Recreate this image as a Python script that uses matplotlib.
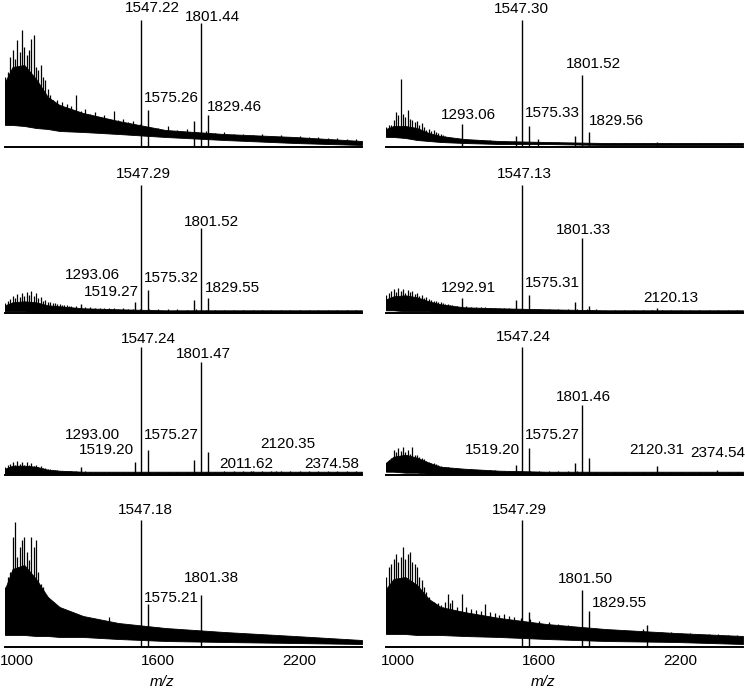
import numpy as np
import matplotlib
matplotlib.use("Agg")
import matplotlib.pyplot as plt
import matplotlib.transforms as mtransforms

plt.rcParams['font.family'] = ['Liberation Sans', 'DejaVu Sans']

# ---------------- data (m/z, intensity in arbitrary units) ----------------
# spike tops of the chemical noise are read at NOISE_MZ,
# the solid noise band (top "body" and bottom "lo") at ENV_MZ
NOISE_MZ = [968, 980, 990, 1000, 1010, 1020, 1030, 1040, 1050, 1060, 1070, 1080, 1090, 1100,
            1110, 1120, 1130, 1140, 1150, 1160, 1170, 1180, 1190, 1200, 1210, 1220, 1230, 1240, 1250,
            1270, 1290, 1310, 1330, 1350, 1370, 1390, 1410, 1430, 1450, 1470, 1490, 1510,
            1540, 1580, 1620, 1660, 1700, 1740, 1780, 1820, 1860, 1900, 1940, 1980, 2020, 2060,
            2100, 2140, 2180, 2220, 2260, 2300, 2340, 2380, 2420, 2460, 2485]
ENV_MZ = [968, 1000, 1050, 1100, 1150, 1200, 1300, 1450, 1650, 1900, 2200, 2485]

# panel 1 (top left)
P1_PEAK_MZ = [1547.22, 1575.26, 1801.44, 1829.46]
P1_PEAK_INT = [127, 37, 124, 32]
P1_MINOR_MZ = [1773]
P1_MINOR_INT = [26]
P1_NOISE_HI = [70, 75, 90, 97, 88, 107, 95, 117, 100, 92, 97, 108, 112, 80, 77, 82, 70, 67, 58, 52,
               47, 44, 47, 42, 45, 40, 43, 38, 41,
               52, 36, 38, 33, 35, 30, 32, 28, 36, 27, 28, 25, 26,
               23, 20, 19, 21, 17, 18, 15, 16, 14, 15, 13, 13, 12, 13, 11, 12, 10, 11, 10, 10, 9, 9, 8, 8, 7]
P1_NOISE_BODY = [65, 80, 82, 68, 50, 42, 34, 26, 17, 13, 10, 6]
P1_NOISE_LO = [22, 22, 21, 19, 18, 16, 15, 13, 10, 7, 4, 2]

# panel 2 (top right)
P2_PEAK_MZ = [1293.06, 1547.30, 1575.33, 1801.52, 1829.56]
P2_PEAK_INT = [23, 127, 21, 72, 15]
P2_MINOR_MZ = [1519, 1616, 1773, 2120]
P2_MINOR_INT = [11, 8, 11, 5]
P2_NOISE_HI = [20, 22, 22, 27, 35, 32, 68, 33, 30, 37, 28, 27, 25, 26, 22, 24, 20, 17, 18, 16,
               17, 15, 14, 13, 12, 11, 10, 9, 9,
               8, 8, 8, 7, 7, 7, 6, 7, 6, 6, 6, 5, 6,
               5, 5, 5, 4, 5, 4, 4, 4, 4, 4, 4, 4, 4, 4, 4, 4, 4, 4, 4, 4, 4, 4, 4, 4, 4]
P2_NOISE_BODY = [18, 21, 21, 19, 14, 11, 8, 6, 5, 4, 4, 4]
P2_NOISE_LO = [10, 10, 9, 7, 6, 5, 4, 3, 3, 2, 2, 2]

# panel 3 (second row left)
P3_PEAK_MZ = [1293.06, 1519.27, 1547.29, 1575.32, 1801.52, 1829.55]
P3_PEAK_INT = [9, 11, 128, 23, 85, 15]
P3_MINOR_MZ = [1773]
P3_MINOR_INT = [13]
P3_NOISE_HI = [10, 12, 14, 17, 15, 19, 16, 20, 17, 21, 18, 22, 17, 20, 15, 16, 12, 13, 11, 11,
               10, 10, 9, 9, 8, 8, 8, 7, 7,
               7, 6, 6, 6, 5, 5, 5, 5, 5, 4, 5, 4, 4,
               4, 4, 4, 4, 4, 3, 4, 3, 3, 3, 3, 3, 3, 3, 3, 3, 3, 3, 3, 3, 3, 3, 3, 3, 3]
P3_NOISE_BODY = [8, 11, 12, 11, 8, 7, 5, 4, 3, 3, 3, 3]
P3_NOISE_LO = [2, 2, 2, 1, 1, 1, 1, 1, 1, 1, 1, 1]

# panel 4 (second row right)
P4_PEAK_MZ = [1292.91, 1547.13, 1575.31, 1801.33, 2120.13]
P4_PEAK_INT = [15, 128, 18, 75, 5]
P4_MINOR_MZ = [1519, 1773, 1829]
P4_MINOR_INT = [13, 11, 7]
P4_NOISE_HI = [18, 20, 22, 24, 21, 25, 22, 24, 20, 23, 21, 22, 19, 20, 17, 18, 15, 16, 14, 13,
               12, 12, 11, 11, 10, 9, 9, 8, 8,
               7, 7, 7, 6, 6, 6, 6, 5, 5, 5, 5, 5, 4,
               4, 4, 4, 4, 4, 4, 4, 4, 4, 3, 3, 3, 3, 3, 3, 3, 3, 3, 3, 3, 3, 3, 3, 3, 3]
P4_NOISE_BODY = [14, 17, 18, 16, 12, 9, 6, 5, 4, 3, 3, 3]
P4_NOISE_LO = [3, 3, 2, 2, 2, 1, 1, 1, 1, 1, 1, 1]

# panel 5 (third row left)
P5_PEAK_MZ = [1293.00, 1519.20, 1547.24, 1575.27, 1801.47, 2011.62, 2120.35, 2374.58]
P5_PEAK_INT = [8, 13, 128, 24.5, 113, 4, 4, 3]
P5_MINOR_MZ = [1773, 1829]
P5_MINOR_INT = [15, 23]
P5_NOISE_HI = [8, 10, 11, 13, 10, 14, 11, 13, 10, 13, 10, 12, 9, 10, 8, 9, 7, 7, 6, 6,
               5, 5, 5, 4, 4, 4, 4, 4, 4,
               4, 4, 4, 3, 3, 3, 3, 3, 3, 3, 3, 3, 3,
               3, 3, 3, 3, 3, 3, 3, 3, 3, 4, 4, 4, 4, 4, 4, 4, 4, 4, 4, 4, 4, 4, 4, 4, 4]
P5_NOISE_BODY = [6, 9, 9, 8, 5, 4, 3, 3, 3, 3, 3, 3]
P5_NOISE_LO = [1, 1, 1, 1, 1, 1, 1, 1, 1, 1, 1, 1]

# panel 6 (third row right)
P6_PEAK_MZ = [1519.20, 1547.24, 1575.27, 1801.46, 2120.31, 2374.54]
P6_PEAK_INT = [10, 128, 26.7, 70, 9, 5]
P6_MINOR_MZ = [1773, 1829]
P6_MINOR_INT = [11.7, 16.7]
P6_NOISE_HI = [12, 15, 17, 25, 23, 27, 24, 28, 23, 25, 21, 28, 20, 20, 18, 17, 16, 14, 13, 12,
               12, 11, 10, 9, 8, 8, 8, 7, 7,
               7, 6, 6, 6, 5, 5, 5, 5, 5, 4, 4, 4, 4,
               4, 4, 4, 4, 4, 4, 4, 3, 3, 3, 3, 3, 3, 3, 3, 3, 3, 3, 3, 3, 3, 3, 3, 3, 3]
P6_NOISE_BODY = [12, 18, 20, 17, 12, 8, 6, 4, 3, 3, 3, 3]
P6_NOISE_LO = [3, 3, 2, 2, 1, 1, 1, 1, 1, 1, 1, 1]

# panel 7 (bottom left)
P7_PEAK_MZ = [1547.18, 1575.21, 1801.38]
P7_PEAK_INT = [127, 43, 52]
P7_MINOR_MZ = []
P7_MINOR_INT = []
P7_NOISE_HI = [60, 70, 75, 110, 125, 90, 100, 107, 110, 95, 87, 110, 100, 107, 75, 63, 60, 53, 50, 43,
               45, 40, 38, 37, 35, 36, 34, 33, 34,
               31, 30, 29, 27, 28, 26, 25, 30, 24, 23, 22, 22, 21,
               21, 19, 20, 17, 18, 16, 17, 15, 15, 14, 14, 13, 13, 12, 12, 11, 11, 10, 10, 9, 9, 8, 8, 7, 7]
P7_NOISE_BODY = [58, 78, 82, 68, 50, 40, 31, 24, 19, 15, 11, 7]
P7_NOISE_LO = [12, 12, 12, 11, 11, 10, 10, 8, 6, 5, 4, 3]

# panel 8 (bottom right)
P8_PEAK_MZ = [1547.29, 1801.50, 1829.55]
P8_PEAK_INT = [127, 57, 36]
P8_MINOR_MZ = [1575, 2078]
P8_MINOR_INT = [35, 22]
P8_NOISE_HI = [70, 80, 83, 88, 93, 85, 90, 100, 88, 93, 95, 85, 83, 80, 70, 67, 60, 55, 50, 43,
               45, 43, 44, 42, 40, 45, 53, 44, 47,
               40, 53, 40, 38, 37, 36, 43, 35, 34, 32, 33, 31, 30,
               29, 28, 26, 25, 23, 22, 20, 19, 18, 17, 17, 16, 16, 18, 15, 15, 15, 14, 14, 13, 13, 13, 12, 12, 12]
P8_NOISE_BODY = [58, 68, 70, 62, 48, 40, 35, 29, 23, 18, 14, 11]
P8_NOISE_LO = [13, 13, 13, 12, 12, 12, 11, 10, 8, 6, 5, 3]

X_TICKS = [1000, 1600, 2200]
X_LABEL = "m/z"

# ---------------- layout (label centres in data coordinates) ----------------
LABEL_POS = [
    [(1593.5, 139), (1674, 49.5), (1848.5, 130), (1942, 40)],
    [(1320, 32), (1544, 138), (1674, 34), (1848.5, 83), (1947.7, 26)],
    [(1340, 38), (1419, 21), (1556.6, 139), (1673, 35), (1847, 91), (1935, 25)],
    [(1320, 25), (1558, 139), (1674, 30), (1809, 83), (2177, 15)],
    [(1340, 39.5), (1401, 24.5), (1578, 136), (1673, 39.5), (1811.6, 121), (1992, 11), (2170, 31), (2357, 11)],
    [(1419, 25), (1550, 138), (1674, 40), (1809, 78), (2118, 25), (2378, 21.7)],
    [(1564, 137), (1674, 49), (1844, 69)],
    [(1533, 137), (1816, 68), (1962, 44)],
]

panels = [
    (P1_PEAK_MZ, P1_PEAK_INT, P1_MINOR_MZ, P1_MINOR_INT, P1_NOISE_HI, P1_NOISE_BODY, P1_NOISE_LO),
    (P2_PEAK_MZ, P2_PEAK_INT, P2_MINOR_MZ, P2_MINOR_INT, P2_NOISE_HI, P2_NOISE_BODY, P2_NOISE_LO),
    (P3_PEAK_MZ, P3_PEAK_INT, P3_MINOR_MZ, P3_MINOR_INT, P3_NOISE_HI, P3_NOISE_BODY, P3_NOISE_LO),
    (P4_PEAK_MZ, P4_PEAK_INT, P4_MINOR_MZ, P4_MINOR_INT, P4_NOISE_HI, P4_NOISE_BODY, P4_NOISE_LO),
    (P5_PEAK_MZ, P5_PEAK_INT, P5_MINOR_MZ, P5_MINOR_INT, P5_NOISE_HI, P5_NOISE_BODY, P5_NOISE_LO),
    (P6_PEAK_MZ, P6_PEAK_INT, P6_MINOR_MZ, P6_MINOR_INT, P6_NOISE_HI, P6_NOISE_BODY, P6_NOISE_LO),
    (P7_PEAK_MZ, P7_PEAK_INT, P7_MINOR_MZ, P7_MINOR_INT, P7_NOISE_HI, P7_NOISE_BODY, P7_NOISE_LO),
    (P8_PEAK_MZ, P8_PEAK_INT, P8_MINOR_MZ, P8_MINOR_INT, P8_NOISE_HI, P8_NOISE_BODY, P8_NOISE_LO),
]

W, H = 745, 692
fig = plt.figure(figsize=(W / 100, H / 100), dpi=100)
col_left = [5, 386]
ax_w = 357
baselines = [147, 313.3, 474.7, 647]
ax_h = 140

for i, (pmz, pint, mmz, mint, hi, body, lo) in enumerate(panels):
    assert len(hi) == len(NOISE_MZ) and len(lo) == len(ENV_MZ) == len(body)
    r, c = divmod(i, 2)
    ax = fig.add_axes([col_left[c] / W, 1 - baselines[r] / H, ax_w / W, ax_h / H])
    ax.set_xlim(968, 2485)
    ax.set_ylim(0, 140)
    # noise spikes
    ax.vlines(NOISE_MZ, 0, hi, color='black', lw=0.9, zorder=1)
    # clear the gap between the noise band and the baseline
    ax.fill_between(ENV_MZ, 0, lo, facecolor='white', edgecolor='none', zorder=2)
    # solid noise band
    ax.fill_between(ENV_MZ, lo, body, facecolor='black', edgecolor='black', lw=0.6, zorder=3)
    if mmz:
        ax.vlines(mmz, 0, mint, color='black', lw=1.0, zorder=4)
    ax.vlines(pmz, 0, pint, color='black', lw=1.0, zorder=4)
    for mz, (lx, ly) in zip(pmz, LABEL_POS[i]):
        ax.text(lx, ly, f"{mz:.2f}", ha='center', va='center', fontsize=11, clip_on=False, zorder=5)
    for s in ['top', 'left', 'right']:
        ax.spines[s].set_visible(False)
    ax.spines['bottom'].set_linewidth(1.4)
    ax.spines['bottom'].set_zorder(6)
    ax.set_yticks([])
    ax.patch.set_alpha(0)
    if r == 3:
        ax.set_xticks(X_TICKS)
        ax.set_xticklabels([str(t) for t in X_TICKS])
        ax.tick_params(axis='x', length=0, pad=5, labelsize=11)
        shift = mtransforms.ScaledTranslation(4 / 100, 0, fig.dpi_scale_trans)
        for lab in ax.get_xticklabels():
            lab.set_transform(lab.get_transform() + shift)
        ax.text(0.44, -35 / ax_h, X_LABEL, style='italic', fontsize=11,
                ha='center', va='center', transform=ax.transAxes)
    else:
        ax.set_xticks([])

fig.savefig('out.png', dpi=100)
